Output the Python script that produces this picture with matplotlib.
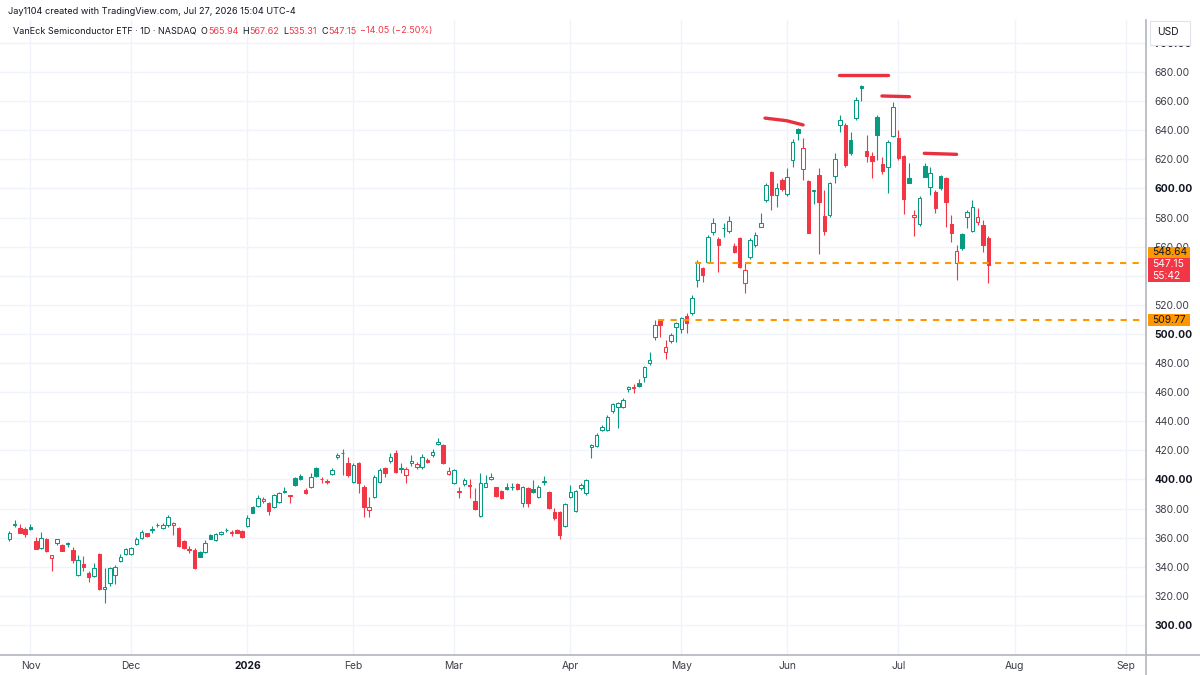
import numpy as np
import matplotlib
matplotlib.use("Agg")
import matplotlib.pyplot as plt
from matplotlib.lines import Line2D
from matplotlib.patches import Rectangle

plt.rcParams['font.family'] = ['Inter', 'DejaVu Sans']

# ---- data (daily OHLC, SMH, 28 Oct 2025 -> 27 Jul 2026) ----
opens = [358.8, 368.9, 366.8, 366.1, 367.5, 357.7, 352.6, 358.8, 346.2, 356.5,
         354.7, 356.2, 351.5, 334.3, 341.6, 335.4, 333.9, 348.7, 324.5, 328.6,
         334.3, 343.9, 348.7, 348.7, 355.6, 359.5, 363.0, 365.2, 368.5, 366.4,
         368.7, 368.7, 366.4, 357.7, 351.5, 351.5, 350.3, 350.3, 361.8, 358.4,
         362.3, 365.1, 363.0, 365.2, 364.8, 368.0, 381.3, 381.8, 385.2, 384.1,
         380.8, 384.7, 391.9, 388.9, 400.8, 402.4, 392.8, 394.6, 407.7, 400.2,
         398.6, 403.5, 415.2, 417.9, 411.1, 398.5, 411.1, 394.6, 379.0, 388.2,
         398.5, 407.7, 412.9, 418.0, 407.8, 403.1, 411.1, 408.3, 408.3, 413.4,
         416.8, 424.4, 423.7, 403.8, 397.3, 391.5, 396.9, 395.6, 385.4, 374.9,
         395.1, 400.1, 394.6, 392.3, 394.6, 394.5, 396.9, 384.1, 393.9, 393.2,
         387.7, 398.3, 391.6, 377.9, 377.9, 368.0, 388.2, 378.6, 393.9, 390.5,
         422.5, 423.0, 434.0, 434.0, 447.3, 450.0, 450.0, 462.0, 463.1, 466.1,
         470.7, 479.8, 498.2, 509.6, 487.8, 495.4, 505.0, 503.2, 512.4, 514.2,
         537.1, 545.1, 549.7, 570.3, 565.0, 572.5, 571.0, 560.5, 565.7, 535.3,
         552.7, 561.1, 573.7, 592.1, 611.5, 595.5, 605.8, 596.2, 619.6, 640.6,
         613.1, 605.4, 598.2, 609.3, 581.1, 581.8, 608.6, 643.6, 643.6, 633.3,
         648.1, 670.3, 625.9, 622.2, 649.3, 616.7, 614.9, 636.0, 634.4, 622.2,
         606.9, 580.1, 575.5, 615.3, 601.1, 597.7, 608.5, 606.9, 575.5, 548.5,
         568.6, 580.5, 570.9, 577.1, 574.8, 565.94]
highs = [364.8, 372.1, 369.1, 367.5, 369.1, 360.7, 364.1, 359.5, 347.8, 358.8,
         355.4, 357.2, 353.8, 348.1, 347.4, 337.3, 342.3, 349.7, 338.9, 339.6,
         341.2, 348.7, 352.6, 353.8, 360.7, 365.2, 363.4, 368.0, 370.3, 369.8,
         375.5, 371.0, 367.1, 358.4, 354.2, 352.6, 351.0, 358.4, 362.3, 363.0,
         364.5, 366.4, 365.2, 365.7, 365.2, 375.6, 381.8, 389.3, 388.2, 384.7,
         390.0, 391.6, 395.1, 389.0, 401.9, 403.8, 393.9, 404.2, 408.3, 401.9,
         400.1, 407.7, 418.0, 420.7, 415.7, 411.1, 412.2, 396.2, 388.2, 403.1,
         407.7, 408.8, 418.4, 420.3, 411.1, 408.8, 416.8, 412.2, 417.5, 414.5,
         420.7, 428.3, 424.4, 408.8, 407.0, 394.6, 400.8, 400.1, 393.9, 404.2,
         403.1, 404.2, 395.1, 392.8, 397.3, 397.8, 397.3, 395.5, 394.6, 399.6,
         396.2, 402.4, 392.3, 380.2, 378.6, 383.6, 396.2, 392.8, 397.3, 400.1,
         424.5, 431.7, 437.4, 444.3, 452.3, 453.5, 455.8, 464.2, 465.6, 468.8,
         478.0, 487.8, 509.6, 510.1, 495.9, 500.4, 508.5, 511.9, 514.2, 526.8,
         550.8, 546.2, 568.0, 579.5, 566.9, 576.0, 581.1, 562.3, 566.4, 548.5,
         565.7, 570.3, 582.9, 603.5, 612.2, 603.5, 607.0, 613.8, 633.8, 641.3,
         634.5, 605.8, 599.0, 613.8, 598.9, 604.7, 624.6, 650.5, 644.8, 639.0,
         663.0, 671.0, 636.7, 625.2, 650.4, 621.8, 633.2, 659.6, 640.1, 622.9,
         617.6, 585.1, 594.7, 617.6, 614.5, 598.9, 609.2, 607.6, 581.7, 561.0,
         569.5, 585.1, 592.0, 586.3, 578.2, 567.62]
lows = [357.9, 367.1, 363.0, 360.2, 365.2, 352.0, 352.2, 350.3, 337.1, 354.9,
        350.8, 353.8, 342.8, 333.6, 337.3, 329.7, 333.2, 324.0, 315.0, 326.7,
        328.1, 343.5, 348.0, 348.0, 354.9, 358.8, 360.7, 363.4, 367.1, 365.7,
        367.5, 361.8, 353.8, 352.0, 349.7, 338.2, 346.4, 349.7, 358.8, 357.9,
        361.8, 364.1, 361.1, 363.0, 359.5, 367.6, 376.7, 381.3, 384.1, 375.6,
        380.2, 384.1, 390.5, 384.1, 395.5, 399.6, 390.0, 393.9, 401.9, 397.8,
        396.9, 403.1, 413.8, 403.1, 401.5, 397.3, 390.5, 374.0, 374.0, 387.0,
        397.3, 401.5, 411.5, 404.7, 404.2, 397.8, 409.3, 407.0, 407.0, 411.1,
        415.7, 423.7, 410.6, 403.1, 396.9, 387.0, 395.5, 387.0, 379.0, 374.0,
        394.6, 399.6, 388.2, 386.3, 392.8, 392.8, 392.8, 381.3, 381.3, 390.5,
        387.0, 396.2, 379.5, 372.1, 358.9, 367.6, 387.0, 377.9, 392.8, 389.3,
        414.5, 422.5, 433.5, 433.5, 445.5, 435.1, 448.9, 460.4, 459.2, 463.8,
        467.2, 478.7, 495.9, 498.2, 482.6, 493.6, 494.7, 500.4, 500.9, 513.0,
        532.5, 535.9, 548.5, 568.0, 542.8, 566.9, 569.2, 555.4, 545.1, 527.9,
        551.3, 560.0, 573.3, 590.9, 585.2, 587.5, 598.5, 594.8, 615.0, 633.3,
        605.8, 569.2, 589.3, 555.0, 568.0, 580.6, 603.5, 639.0, 615.0, 623.0,
        647.0, 660.2, 618.3, 606.9, 619.5, 609.9, 596.6, 635.0, 619.5, 582.4,
        603.4, 567.2, 574.1, 607.6, 595.4, 583.3, 598.9, 573.6, 563.3, 537.0,
        557.6, 572.5, 570.2, 574.8, 556.5, 535.31]
closes = [363.4, 369.1, 363.4, 362.5, 365.7, 352.2, 359.5, 351.0, 347.8, 358.8,
          351.0, 355.7, 344.6, 345.0, 339.8, 332.7, 338.9, 324.5, 325.8, 338.9,
          339.6, 346.9, 351.9, 353.1, 358.8, 364.1, 361.1, 365.4, 368.7, 369.0,
          374.0, 370.3, 354.2, 352.6, 352.0, 338.9, 346.9, 356.1, 359.0, 362.5,
          364.1, 365.3, 364.1, 363.4, 360.2, 373.3, 377.2, 387.0, 386.3, 378.6,
          389.3, 390.9, 391.5, 388.6, 396.2, 400.1, 390.5, 401.9, 402.4, 400.0,
          398.4, 406.5, 416.8, 418.2, 403.1, 409.9, 397.3, 381.3, 380.8, 401.9,
          406.5, 404.7, 415.2, 405.4, 407.5, 407.0, 412.9, 410.6, 415.7, 412.2,
          419.1, 426.0, 411.5, 406.0, 406.5, 391.8, 399.6, 395.5, 379.5, 397.3,
          397.8, 401.9, 388.6, 387.0, 393.4, 394.8, 393.2, 394.6, 384.1, 391.4,
          394.6, 398.6, 380.2, 373.3, 361.8, 383.1, 391.6, 392.3, 396.2, 399.6,
          423.5, 430.6, 436.3, 443.2, 451.9, 452.8, 454.6, 463.8, 463.5, 464.3,
          477.1, 482.1, 506.2, 505.9, 491.3, 499.3, 507.3, 510.8, 507.3, 524.5,
          549.7, 540.5, 566.9, 576.0, 561.1, 572.8, 577.9, 556.6, 546.2, 543.9,
          564.6, 568.0, 576.0, 602.4, 595.5, 600.1, 599.4, 607.6, 632.2, 637.9,
          627.6, 569.6, 598.8, 590.9, 571.0, 603.5, 620.0, 647.1, 616.1, 624.1,
          660.7, 669.3, 622.2, 619.0, 636.7, 611.9, 632.1, 656.1, 620.6, 592.4,
          603.9, 581.7, 593.1, 608.0, 610.8, 586.3, 600.0, 590.8, 569.1, 557.2,
          558.8, 584.0, 586.9, 580.1, 561.0, 547.15]

# month labels and the bar they sit on
month_labels = ['Nov', 'Dec', '2026', 'Feb', 'Mar', 'Apr', 'May', 'Jun', 'Jul', 'Aug', 'Sep']
month_bars = [4, 23, 45, 65, 84, 106, 127, 147, 168, 190, 211]

# horizontal levels drawn by the author
level_hi = 548.64
level_lo = 509.77
level_hi_from = 129.6
level_lo_from = 122.6
last_price = 547.15
countdown = '55:42'

# hand drawn red strokes over the tops (bar, price)
strokes = [
    ([142.8, 146.9, 150.0], [648.3, 646.5, 643.6]),
    ([156.8, 166.1], [677.9, 677.9]),
    ([164.9, 170.1], [663.5, 663.0]),
    ([172.9, 179.0], [624.1, 623.4]),
]

GREEN = '#089981'
RED = '#F23645'
ORANGE = '#FF9800'
GRID = '#f0f3fa'
TEXT = '#131722'
W, H = 1200, 675
FS = 7.4


def fx(px):
    return px / W


def fy(py):
    return 1 - py / H


def tag(y0, y1, lines, fc, tc):
    # a price tag on the scale, pixel box from y0 to y1
    fig.add_artist(Rectangle((fx(1148), fy(y1)), fx(42), fy(y0) - fy(y1),
                             fc=fc, ec='none', zorder=20))
    step = (y1 - y0) / len(lines)
    for k, s in enumerate(lines):
        fig.text(fx(1152), fy(y0 + step * (k + 0.5)), s, fontsize=FS,
                 color=tc, va='center', ha='left', zorder=21)


fig = plt.figure(figsize=(12, 6.75), dpi=100, facecolor='white')
ax = fig.add_axes([0, fy(655), fx(1146), fy(20) - fy(655)])
ax.set_xlim(-1.76, 214.8)
ax.set_ylim(279.4, 715.7)

# grid
ax.set_yticks(np.arange(300, 701, 20))
ax.set_xticks(month_bars)
ax.grid(True, color=GRID, lw=1, zorder=0)
ax.set_axisbelow(True)
for s in ['top', 'left', 'right', 'bottom']:
    ax.spines[s].set_visible(False)

# candles (hollow style: hollow when close>open, colour from prev close)
o = np.array(opens)
h = np.array(highs)
l = np.array(lows)
c = np.array(closes)
x = np.arange(len(c))
prev = np.concatenate([[o[0]], c[:-1]])
cols = np.where(c >= prev, GREEN, RED)
filled = c < o

ax.vlines(x, l, h, colors=cols, lw=0.8, zorder=2)
bottoms = np.minimum(o, c)
heights = np.maximum(np.abs(c - o), 0.45)
faces = [col if f else 'white' for col, f in zip(cols, filled)]
ax.bar(x, heights, bottom=bottoms, width=0.66, color=faces, edgecolor=cols,
       linewidth=0.75, zorder=3)

# author lines
ax.hlines(level_hi, level_hi_from, 214.8, colors=ORANGE, lw=1.5,
          linestyles=(0, (3, 3)), zorder=4)
ax.hlines(level_lo, level_lo_from, 214.8, colors=ORANGE, lw=1.5,
          linestyles=(0, (3, 3)), zorder=4)
for xs, ys in strokes:
    ax.plot(xs, ys, color='#E8303F', lw=2.4, solid_capstyle='round', zorder=5)

# price scale on the right
ax.yaxis.tick_right()
ax.tick_params(axis='y', length=0, pad=6, labelsize=FS, labelcolor='#3b3e48')
ax.set_yticklabels(['%.2f' % v for v in np.arange(300, 701, 20)])
for lab, v in zip(ax.get_yticklabels(), np.arange(300, 701, 20)):
    if v % 100 == 0:
        lab.set_fontweight('bold')
        lab.set_color(TEXT)

# time scale
ax.set_xticklabels(month_labels)
ax.tick_params(axis='x', length=0, pad=4, labelsize=FS, labelcolor='#3b3e48')
for lab in ax.get_xticklabels():
    if lab.get_text() == '2026':
        lab.set_fontweight('bold')
        lab.set_color(TEXT)

# price tags on the scale
tag(246.7, 258.3, ['%.2f' % level_hi], ORANGE, TEXT)
tag(258.3, 282.0, ['%.2f' % last_price, countdown], RED, 'white')
tag(314.0, 325.5, ['%.2f' % level_lo], ORANGE, TEXT)

# frame lines of the chart
fig.add_artist(Line2D([0, 1], [fy(655), fy(655)], color='#b2b5be', lw=1.2))
fig.add_artist(Line2D([fx(1146), fx(1146)], [fy(20), 0], color='#b2b5be', lw=1.2))

# USD box
fig.add_artist(Rectangle((fx(1150), fy(44.5)), fx(40), fy(21) - fy(44.5),
                         fc='white', ec='#e0e3eb', lw=0.8, zorder=20))
fig.text(fx(1157), fy(32), 'USD', fontsize=FS, color=TEXT, va='center', zorder=21)

# header texts
fig.text(fx(8), fy(12), 'Jay1104 created with TradingView.com, Jul 27, 2026 15:04 UTC-4',
         fontsize=6.6, color=TEXT, va='center')

renderer = fig.canvas.get_renderer()
pieces = [('VanEck Semiconductor ETF \u00b7 1D \u00b7 NASDAQ', TEXT, 4),
          ('O', TEXT, 0.5), ('565.94', RED, 4),
          ('H', TEXT, 0.5), ('567.62', RED, 4),
          ('L', TEXT, 0.5), ('535.31', RED, 4),
          ('C', TEXT, 0.5), ('547.15', RED, 4),
          ('\u221214.05 (\u22122.50%)', RED, 0)]
px = 13
for s, col, gap in pieces:
    t = fig.text(fx(px), fy(31), s, fontsize=6.5, color=col, va='center')
    bb = t.get_window_extent(renderer=renderer)
    px = bb.x1 + gap

fig.savefig('out.png', dpi=100, facecolor='white')
